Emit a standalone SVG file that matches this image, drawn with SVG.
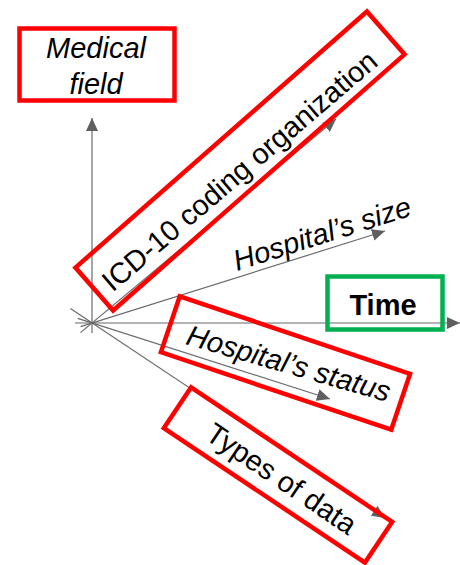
<svg xmlns="http://www.w3.org/2000/svg" width="460" height="565" viewBox="0 0 460 565">
<defs>
<style>
.ax{stroke:#6b6b6b;stroke-width:1.2;fill:none;marker-end:url(#ah)}
.rb{fill:none;stroke:#ff0000;stroke-width:4.5}
.gb{fill:none;stroke:#00b050;stroke-width:4.5}
.t{font-family:"Liberation Sans",Arial,sans-serif;font-size:29px;fill:#000}
.i{font-style:italic}
.b{font-weight:bold}
</style>
<marker id="ah" markerUnits="userSpaceOnUse" markerWidth="14" markerHeight="12" refX="13" refY="6" orient="auto">
<path d="M0,0 L13,6 L0,12 z" fill="#5f5f5f"/>
</marker>
</defs>
<rect width="460" height="565" fill="#fff"/>
<g id="connectors">
<line class="ax" x1="92" y1="333" x2="92" y2="118"/>
<line class="ax" x1="80.5" y1="332.6" x2="336" y2="119"/>
<line class="ax" x1="80.6" y1="326.6" x2="385" y2="231"/>
<line class="ax" x1="75" y1="323" x2="460" y2="323"/>
<line class="ax" x1="77.7" y1="318.4" x2="330" y2="399"/>
<line class="ax" x1="70.4" y1="308.6" x2="385" y2="518"/>
</g>
<g id="medical-field">
<rect class="rb" x="19.5" y="28.5" width="155" height="72"/>
<text class="t i" x="96" y="58" text-anchor="middle">Medical</text>
<text class="t i" x="96" y="94" text-anchor="middle">field</text>
</g>
<g id="icd10">
<rect class="rb" x="-194" y="-28.5" width="388" height="57" transform="translate(240,161) rotate(-41.3)"/>
<text class="t" x="0" y="0" text-anchor="middle" transform="translate(246,178.5) rotate(-40.6)">ICD-10 coding organization</text>
</g>
<g id="hospital-size">
<text class="t i" x="0" y="0" text-anchor="middle" transform="translate(325,243) rotate(-17.6)">Hospital’s size</text>
</g>
<g id="time">
<rect class="gb" x="327.5" y="276.5" width="115" height="53"/>
<text class="t b" x="383" y="315" text-anchor="middle">Time</text>
</g>
<g id="hospital-status">
<rect class="rb" x="-121.5" y="-29.5" width="243" height="59" transform="translate(285.5,363) rotate(18.6)"/>
<text class="t i" x="0" y="0" text-anchor="middle" transform="translate(286,373) rotate(16)">Hospital’s status</text>
</g>
<g id="types-of-data">
<rect class="rb" x="-121" y="-24.5" width="242" height="49" transform="translate(278,475) rotate(33.8)"/>
<text class="t" x="0" y="0" text-anchor="middle" transform="translate(276,487) rotate(34)">Types of data</text>
</g>
</svg>
